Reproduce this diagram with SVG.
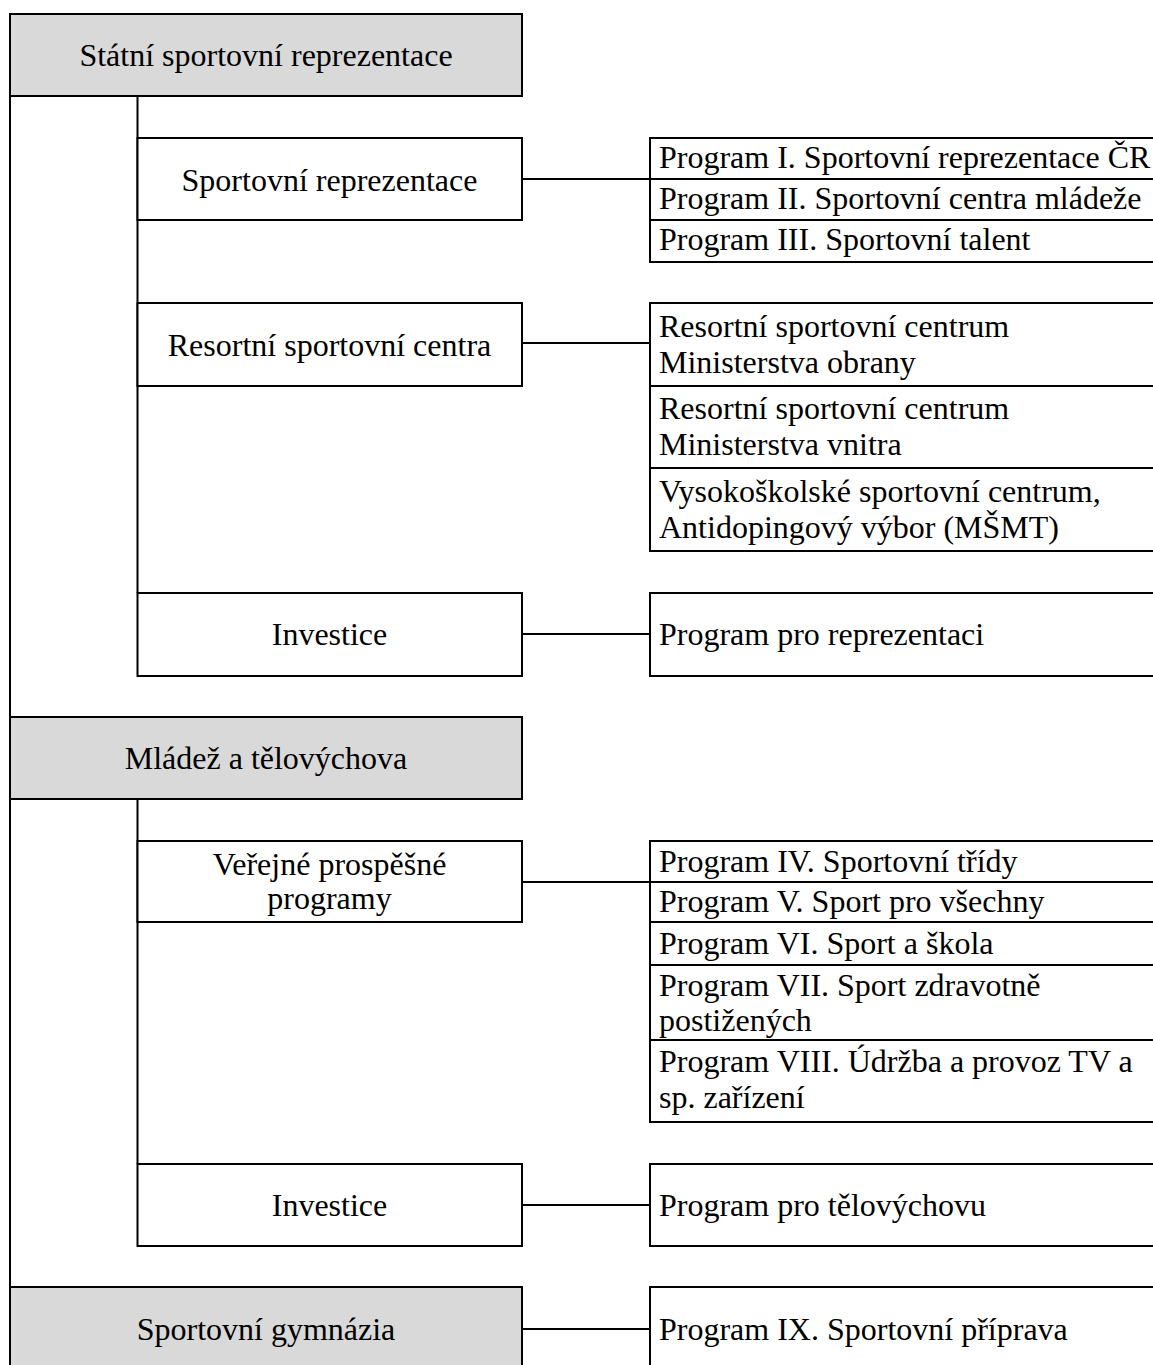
<svg xmlns="http://www.w3.org/2000/svg" width="1153" height="1365" viewBox="0 0 1153 1365">
<style>
  .box { fill: #ffffff; stroke: #000000; stroke-width: 2; }
  .head { fill: #d9d9d9; stroke: #000000; stroke-width: 2; }
  .ln { stroke: #000000; stroke-width: 2; fill: none; }
  text { font-family: "Liberation Serif", "Times New Roman", serif; font-size: 32px; fill: #000000; }
  .c { text-anchor: middle; }
</style>
<rect x="0" y="0" width="1153" height="1365" fill="#ffffff"/>
<g id="connectors">
  <line class="ln" x1="10" y1="96" x2="10" y2="1287"/>
  <line class="ln" x1="137.5" y1="96" x2="137.5" y2="593"/>
  <line class="ln" x1="137.5" y1="799" x2="137.5" y2="1164"/>
  <line class="ln" x1="522" y1="179" x2="650" y2="179"/>
  <line class="ln" x1="522" y1="343" x2="650" y2="343"/>
  <line class="ln" x1="522" y1="634" x2="650" y2="634"/>
  <line class="ln" x1="522" y1="882" x2="650" y2="882"/>
  <line class="ln" x1="522" y1="1205" x2="650" y2="1205"/>
  <line class="ln" x1="522" y1="1329" x2="650" y2="1329"/>
</g>
<g id="n-statni">
  <rect class="head" x="10" y="14" width="512" height="82"/>
  <text class="c" x="266" y="66">Státní sportovní reprezentace</text>
</g>
<g id="n-sportrep">
  <rect class="box" x="137.5" y="138" width="384.5" height="82"/>
  <text class="c" x="329.5" y="191">Sportovní reprezentace</text>
</g>
<g id="n-prog1">
  <rect class="box" x="650" y="138" width="510" height="41"/>
  <text x="659" y="168">Program I. Sportovní reprezentace ČR</text>
</g>
<g id="n-prog2">
  <rect class="box" x="650" y="179" width="510" height="41"/>
  <text x="659" y="209">Program II. Sportovní centra mládeže</text>
</g>
<g id="n-prog3">
  <rect class="box" x="650" y="220" width="510" height="42"/>
  <text x="659" y="250">Program III. Sportovní talent</text>
</g>
<g id="n-resortni">
  <rect class="box" x="137.5" y="303" width="384.5" height="83"/>
  <text class="c" x="329.5" y="356">Resortní sportovní centra</text>
</g>
<g id="n-rsc-mo">
  <rect class="box" x="650" y="303" width="510" height="83"/>
  <text x="659" y="337">Resortní sportovní centrum</text>
  <text x="659" y="373">Ministerstva obrany</text>
</g>
<g id="n-rsc-mv">
  <rect class="box" x="650" y="386" width="510" height="82"/>
  <text x="659" y="419">Resortní sportovní centrum</text>
  <text x="659" y="455">Ministerstva vnitra</text>
</g>
<g id="n-vsc">
  <rect class="box" x="650" y="468" width="510" height="83"/>
  <text x="659" y="502">Vysokoškolské sportovní centrum,</text>
  <text x="659" y="538">Antidopingový výbor (MŠMT)</text>
</g>
<g id="n-invest1">
  <rect class="box" x="137.5" y="593" width="384.5" height="83"/>
  <text class="c" x="329.5" y="645">Investice</text>
</g>
<g id="n-progrep">
  <rect class="box" x="650" y="593" width="510" height="83"/>
  <text x="659" y="645">Program pro reprezentaci</text>
</g>
<g id="n-mladez">
  <rect class="head" x="10" y="717" width="512" height="82"/>
  <text class="c" x="266" y="769">Mládež a tělovýchova</text>
</g>
<g id="n-verejne">
  <rect class="box" x="137.5" y="841" width="384.5" height="81"/>
  <text class="c" x="329.5" y="875">Veřejné prospěšné</text>
  <text class="c" x="329.5" y="909">programy</text>
</g>
<g id="n-prog4">
  <rect class="box" x="650" y="841" width="510" height="41"/>
  <text x="659" y="872">Program IV. Sportovní třídy</text>
</g>
<g id="n-prog5">
  <rect class="box" x="650" y="882" width="510" height="40"/>
  <text x="659" y="912">Program V. Sport pro všechny</text>
</g>
<g id="n-prog6">
  <rect class="box" x="650" y="922" width="510" height="43"/>
  <text x="659" y="954">Program VI. Sport a škola</text>
</g>
<g id="n-prog7">
  <rect class="box" x="650" y="965" width="510" height="75"/>
  <text x="659" y="996">Program VII. Sport zdravotně</text>
  <text x="659" y="1031">postižených</text>
</g>
<g id="n-prog8">
  <rect class="box" x="650" y="1040" width="510" height="82"/>
  <text x="659" y="1072">Program VIII. Údržba a provoz TV a</text>
  <text x="659" y="1108">sp. zařízení</text>
</g>
<g id="n-invest2">
  <rect class="box" x="137.5" y="1164" width="384.5" height="82"/>
  <text class="c" x="329.5" y="1216">Investice</text>
</g>
<g id="n-progtv">
  <rect class="box" x="650" y="1164" width="510" height="82"/>
  <text x="659" y="1216">Program pro tělovýchovu</text>
</g>
<g id="n-gymnazia">
  <rect class="head" x="10" y="1287" width="512" height="90"/>
  <text class="c" x="266" y="1340">Sportovní gymnázia</text>
</g>
<g id="n-prog9">
  <rect class="box" x="650" y="1287" width="510" height="90"/>
  <text x="659" y="1340">Program IX. Sportovní příprava</text>
</g>
</svg>
